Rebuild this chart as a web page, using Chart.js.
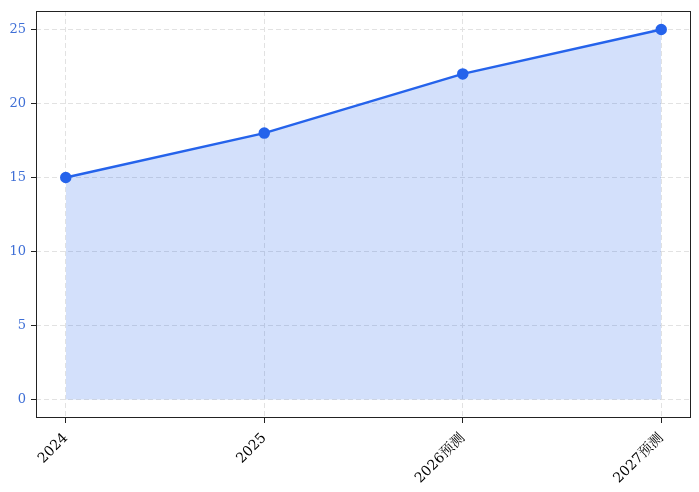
<!DOCTYPE html>
<html>
<head>
<meta charset="utf-8">
<script src="https://cdn.jsdelivr.net/npm/chart.js@4/dist/chart.umd.min.js"></script>
<style>
  html, body { margin: 0; padding: 0; background: #fff; }
  #wrap { width: 699px; height: 492px; }
</style>
</head>
<body>
<div id="wrap"><canvas id="c" width="699" height="492"></canvas></div>
<script>
const categories = ['2024', '2025', '2026预测', '2027预测'];
const values = [15, 18, 22, 25];
const yTicks = [0, 5, 10, 15, 20, 25];

const FONT = "'DejaVu Serif', 'Noto Serif CJK SC', 'Noto Sans CJK SC', serif";
const blue = '#2563eb';

// full box around the plot, like matplotlib spines
const frame = {
  id: 'frame',
  afterDraw(chart) {
    const {ctx, chartArea: a} = chart;
    ctx.save();
    ctx.strokeStyle = '#222';
    ctx.lineWidth = 1;
    ctx.strokeRect(Math.round(a.left) + 0.5, Math.round(a.top) + 0.5,
      Math.round(a.right - a.left) - 1, Math.round(a.bottom - a.top) - 1);
    ctx.restore();
  }
};

const gridOpts = {
  color: '#e2e2e2',
  tickColor: '#222',
  tickLength: 5,
  tickBorderDash: [1, 0]
};

new Chart(document.getElementById('c'), {
  type: 'line',
  data: {
    datasets: [{
      data: values.map((v, i) => ({x: i, y: v})),
      borderColor: blue,
      borderWidth: 2.5,
      backgroundColor: 'rgba(37,99,235,0.2)',
      fill: 'origin',
      pointRadius: 4.5,
      pointBackgroundColor: blue,
      pointBorderColor: blue,
      tension: 0
    }]
  },
  options: {
    responsive: false,
    devicePixelRatio: 1,
    animation: false,
    layout: { padding: { top: 11, right: 8, left: 0, bottom: 0 } },
    plugins: { legend: { display: false }, tooltip: { enabled: false } },
    scales: {
      x: {
        type: 'linear',
        min: -0.15,
        max: 3.15,
        afterBuildTicks: (s) => { s.ticks = categories.map((_, i) => ({value: i})); },
        afterFit: (s) => { s.height = 74; s.paddingLeft = 0; s.paddingRight = 0; },
        border: { display: false, dash: [5, 3] },
        grid: gridOpts,
        ticks: {
          autoSkip: false,
          minRotation: 45,
          maxRotation: 45,
          padding: 7,
          color: '#000',
          font: { family: FONT, size: 14 },
          callback: (v) => categories[v]
        }
      },
      y: {
        min: -1.25,
        max: 26.25,
        afterBuildTicks: (s) => { s.ticks = yTicks.map(v => ({value: v})); },
        afterFit: (s) => { s.width = 36; s.paddingTop = 0; s.paddingBottom = 0; },
        border: { display: false, dash: [5, 3] },
        grid: gridOpts,
        ticks: {
          padding: 5,
          color: '#3f6fd6',
          font: { family: FONT, size: 13 }
        }
      }
    }
  },
  plugins: [frame]
});
</script>
</body>
</html>
